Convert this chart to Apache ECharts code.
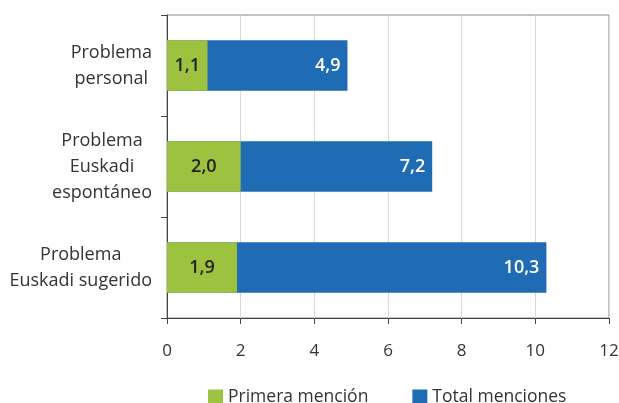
<!DOCTYPE html>
<html>
<head>
<meta charset="utf-8">
<script src="https://cdn.jsdelivr.net/npm/echarts@6/dist/echarts.min.js"></script>
<style>html,body{margin:0;padding:0;background:#fff}#c{width:619px;height:403px}</style>
</head>
<body>
<div id="c"></div>
<script>
var categories = [["Problema", "personal"], ["Problema", "Euskadi", "espontáneo"], ["Problema", "Euskadi sugerido"]];
var primera = [1.1, 2.0, 1.9];
var total = [4.9, 7.2, 10.3];
var seriesNames = ["Primera mención", "Total menciones"];
var xTicks = { min: 0, max: 12, interval: 2 };

var FONT = "Open Sans";
function fmt(v) { return v.toFixed(1).replace('.', ','); }

var chart = echarts.init(document.getElementById('c'));
chart.setOption({
  animation: false,
  textStyle: { fontFamily: FONT },
  grid: { left: 167, right: 10, top: 15, bottom: 85, show: true, borderColor: '#888', borderWidth: 1,
    containLabel: false, outerBoundsMode: 'none' },
  legend: {
    data: seriesNames,
    left: 203, top: 383,
    itemWidth: 15, itemHeight: 15, itemGap: 44,
    icon: 'rect',
    textStyle: { fontFamily: FONT, fontSize: 17.5, color: '#333' }
  },
  xAxis: {
    type: 'value', min: xTicks.min, max: xTicks.max, interval: xTicks.interval,
    axisLine: { show: true, lineStyle: { color: '#444' } },
    axisTick: { show: true, length: 6, lineStyle: { color: '#444' } },
    axisLabel: { fontFamily: FONT, fontSize: 17, color: '#333', margin: 25 },
    splitLine: { show: true, lineStyle: { color: '#d9d9d9' } }
  },
  yAxis: {
    type: 'category', inverse: true,
    data: categories.map(function (c) { return c.join('\n'); }),
    axisLine: { show: true, lineStyle: { color: '#444' } },
    axisTick: { show: true, length: 6, lineStyle: { color: '#444' } },
    axisLabel: {
      margin: 15,
      formatter: function (v) { return v.split('\n').map(function (s) { return '{c|' + s + '}'; }).join('\n'); },
      rich: { c: { align: 'center', fontFamily: FONT, fontSize: 18, color: '#333', lineHeight: 26 } }
    }
  },
  series: [
    {
      name: seriesNames[0], type: 'bar', data: primera, z: 3,
      barWidth: '50%', barGap: '-100%',
      itemStyle: { color: '#9dc23f' },
      label: { show: true, position: 'inside', color: '#222', fontFamily: FONT, fontSize: 18, fontWeight: 600,
        formatter: function (p) { return fmt(p.value); } }
    },
    {
      name: seriesNames[1], type: 'bar', data: total, z: 2,
      barWidth: '50%', barGap: '-100%',
      itemStyle: { color: '#1f6bb4' },
      label: { show: true, position: 'insideRight', distance: 7, color: '#fff', fontFamily: FONT, fontSize: 18, fontWeight: 600,
        formatter: function (p) { return fmt(p.value); } }
    }
  ]
});
</script>
</body>
</html>
